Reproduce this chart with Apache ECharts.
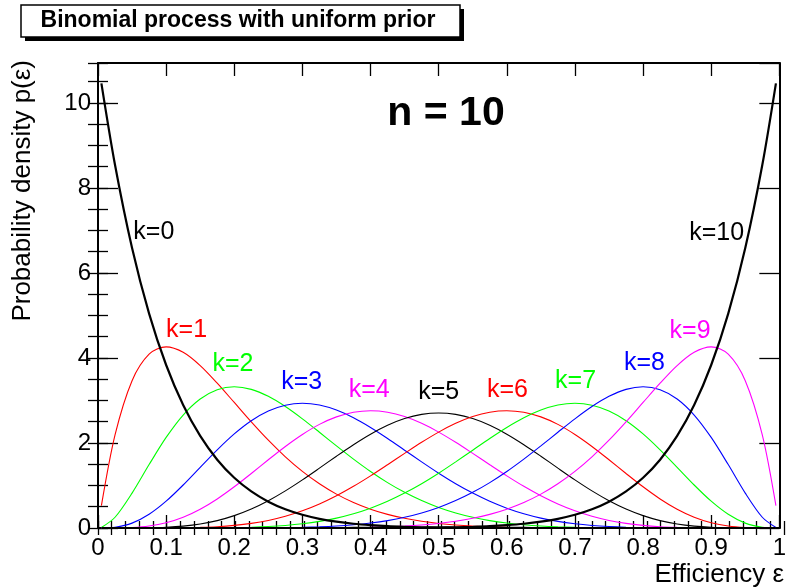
<!DOCTYPE html>
<html>
<head>
<meta charset="utf-8">
<script src="https://cdn.jsdelivr.net/npm/echarts@6/dist/echarts.min.js"></script>
<style>
  html, body { margin: 0; padding: 0; background: #ffffff; }
  #chart { width: 789px; height: 588px; }
</style>
</head>
<body>
<div id="chart"></div>
<script>
// Efficiency values at which each posterior density is sampled
const eps = [0.005,0.025,0.05,0.075,0.1,0.125,0.15,0.175,0.2,0.225,0.25,0.275,0.3,0.325,0.35,0.375,0.4,0.425,0.45,0.475,0.5,
             0.525,0.55,0.575,0.6,0.625,0.65,0.675,0.7,0.725,0.75,0.775,0.8,0.825,0.85,0.875,0.9,0.925,0.95,0.975,0.995];

// Posterior density p(eps) for k successes out of n = 10 trials
const p0 = [10.462,8.540,6.586,5.044,3.835,2.894,2.166,1.607,1.181,0.860,0.619,0.441,0.311,0.216,0.148,0.100,0.067,0.043,0.028,0.017,0.011,
            0.006,0.004,0.002,0.001,0.001,0,0,0,0,0,0,0,0,0,0,0,0,0,0,0];
const p1 = [0.526,2.190,3.466,4.090,4.262,4.134,3.822,3.408,2.953,2.496,2.065,1.674,1.332,1.040,0.797,0.600,0.443,0.321,0.228,0.158,0.107,
            0.071,0.046,0.029,0.017,0.010,0.006,0.003,0.002,0.001,0,0,0,0,0,0,0,0,0,0,0];
const p2 = [0.012,0.253,0.821,1.492,2.131,2.658,3.035,3.253,3.322,3.261,3.097,2.857,2.568,2.253,1.932,1.621,1.330,1.068,0.839,0.645,0.483,
            0.354,0.252,0.174,0.117,0.076,0.047,0.028,0.016,0.009,0.004,0.002,0.001,0,0,0,0,0,0,0,0];
const p3 = [0,0.017,0.115,0.323,0.631,1.012,1.428,1.840,2.215,2.525,2.753,2.890,2.935,2.893,2.774,2.593,2.365,2.106,1.831,1.555,1.289,
            1.042,0.821,0.629,0.467,0.336,0.233,0.155,0.099,0.060,0.034,0.018,0.009,0.004,0.001,0,0,0,0,0,0];
const p4 = [0,0.001,0.011,0.046,0.123,0.253,0.441,0.683,0.969,1.283,1.606,1.919,2.201,2.438,2.614,2.723,2.759,2.724,2.622,2.462,2.256,
            2.016,1.755,1.488,1.226,0.980,0.758,0.565,0.404,0.276,0.178,0.108,0.061,0.031,0.014,0.005,0.002,0,0,0,0];
const p5 = [0,0,0.001,0.004,0.016,0.043,0.093,0.174,0.291,0.447,0.642,0.873,1.132,1.408,1.689,1.960,2.207,2.416,2.574,2.673,2.707,
            2.673,2.574,2.416,2.207,1.960,1.689,1.408,1.132,0.873,0.642,0.447,0.291,0.174,0.093,0.043,0.016,0.004,0.001,0,0];
const p6 = [0,0,0,0,0.002,0.005,0.014,0.031,0.061,0.108,0.178,0.276,0.404,0.565,0.758,0.980,1.226,1.488,1.755,2.016,2.256,
            2.462,2.622,2.724,2.759,2.723,2.614,2.438,2.201,1.919,1.606,1.283,0.969,0.683,0.441,0.253,0.123,0.046,0.011,0.001,0];
const p7 = [0,0,0,0,0,0,0.001,0.004,0.009,0.018,0.034,0.060,0.099,0.155,0.233,0.336,0.467,0.629,0.821,1.042,1.289,
            1.555,1.831,2.106,2.365,2.593,2.774,2.893,2.935,2.890,2.753,2.525,2.215,1.840,1.428,1.012,0.631,0.323,0.115,0.017,0];
const p8 = [0,0,0,0,0,0,0,0,0.001,0.002,0.004,0.009,0.016,0.028,0.047,0.076,0.117,0.174,0.252,0.354,0.483,
            0.645,0.839,1.068,1.330,1.621,1.932,2.253,2.568,2.857,3.097,3.261,3.322,3.253,3.035,2.658,2.131,1.492,0.821,0.253,0.012];
const p9 = [0,0,0,0,0,0,0,0,0,0,0,0.001,0.002,0.003,0.006,0.010,0.017,0.029,0.046,0.071,0.107,
            0.158,0.228,0.321,0.443,0.600,0.797,1.040,1.332,1.674,2.065,2.496,2.953,3.408,3.822,4.134,4.262,4.090,3.466,2.190,0.526];
const p10 = [0,0,0,0,0,0,0,0,0,0,0,0,0,0,0,0.001,0.001,0.002,0.004,0.006,0.011,
             0.017,0.028,0.043,0.067,0.100,0.148,0.216,0.311,0.441,0.619,0.860,1.181,1.607,2.166,2.894,3.835,5.044,6.586,8.540,10.462];

const curveNames = ['k=0','k=1','k=2','k=3','k=4','k=5','k=6','k=7','k=8','k=9','k=10'];
const nTrials = 10;

// ---- styling ----
const densities = [p0, p1, p2, p3, p4, p5, p6, p7, p8, p9, p10];
const curveColors = ['#000000','#ff0000','#00ff00','#0000ff','#ff00ff','#000000',
                     '#ff0000','#00ff00','#0000ff','#ff00ff','#000000'];
// curve-label anchors in data coordinates (efficiency, density)
const labelAnchors = [[0.082,6.96],[0.130,4.66],[0.198,3.86],[0.299,3.44],[0.398,3.25],[0.500,3.20],
                      [0.601,3.25],[0.701,3.46],[0.802,3.88],[0.869,4.64],[0.908,6.94]];

const FONT = '"Liberation Sans", Arial, Helvetica, sans-serif';
const Y_MAX = 10.94;
const G = { left: 98, right: 5, top: 63, bottom: 60 };

const series = densities.map((d, k) => ({
  type: 'line',
  name: curveNames[k],
  xAxisIndex: 0,
  yAxisIndex: 0,
  data: eps.map((e, i) => [e, d[i]]),
  symbol: 'none',
  smooth: 0.3,
  silent: true,
  z: (k === 0 || k === nTrials) ? 4 : 3,
  lineStyle: { color: curveColors[k], width: (k === 0 || k === nTrials) ? 2.2 : 1.1 }
}));

const frameLine = { show: true, onZero: false, lineStyle: { color: '#000', width: 2 } };
const noLabel = { show: false };
const noSplit = { show: false };

function xAxisDef(grid, pos, interval, tickLen, withLabels) {
  return {
    gridIndex: grid, type: 'value', position: pos, min: 0, max: 1, interval,
    axisLine: grid === 0 ? frameLine : { show: false },
    axisTick: { show: true, inside: true, length: tickLen, lineStyle: { color: '#000', width: 1.3 } },
    axisLabel: withLabels ? {
      show: true, margin: 8, fontFamily: FONT, fontSize: 24, color: '#000',
      formatter: v => (v === 0 ? '0' : v === 1 ? '1' : v.toFixed(1))
    } : noLabel,
    splitLine: noSplit
  };
}
function yAxisDef(grid, pos, interval, tickLen, withLabels) {
  return {
    gridIndex: grid, type: 'value', position: pos, min: 0, max: Y_MAX, interval,
    axisLine: grid === 0 ? frameLine : { show: false },
    axisTick: { show: true, inside: true, length: tickLen, lineStyle: { color: '#000', width: 1.3 } },
    axisLabel: withLabels ? {
      show: true, margin: 7, fontFamily: FONT, fontSize: 24, color: '#000',
      showMaxLabel: false, formatter: v => String(Math.round(v))
    } : noLabel,
    splitLine: noSplit
  };
}

function textEl(x, y, text, font, color, align, extra) {
  return Object.assign({
    type: 'text', x, y, z: 12,
    style: { text, font, fill: color, align, verticalAlign: 'middle', textAlign: align, textVerticalAlign: 'middle' }
  }, extra || {});
}

const baseGraphics = [
  // title box with drop shadow
  { type: 'rect', shape: { x: 25, y: 9, width: 439, height: 32 }, style: { fill: '#000' }, z: 10 },
  { type: 'rect', shape: { x: 21, y: 5, width: 439, height: 32 }, style: { fill: '#fff', stroke: '#000', lineWidth: 1.5 }, z: 11 },
  textEl(238, 21, 'Binomial process with uniform prior', 'bold 23px ' + FONT, '#000', 'center'),
  // sample size
  textEl(446, 114, 'n = ' + nTrials, 'bold 41px ' + FONT, '#000', 'center'),
  // axis titles
  textEl(784, 575, 'Efficiency \u03b5', '26px ' + FONT, '#000', 'right'),
  textEl(23, 60, 'Probability density p(\u03b5)', '26px ' + FONT, '#000', 'right', { rotation: Math.PI / 2 })
];

const option = {
  animation: false,
  backgroundColor: '#ffffff',
  grid: [Object.assign({}, G), Object.assign({}, G)],
  xAxis: [
    xAxisDef(0, 'bottom', 0.1, 13, true),
    xAxisDef(0, 'top', 0.1, 13, false),
    xAxisDef(1, 'bottom', 0.02, 7, false),
    xAxisDef(1, 'top', 0.02, 7, false)
  ],
  yAxis: [
    yAxisDef(0, 'left', 2, 20, true),
    yAxisDef(0, 'right', 2, 20, false),
    yAxisDef(1, 'left', 0.5, 10, false),
    yAxisDef(1, 'right', 0.5, 10, false)
  ],
  series,
  graphic: baseGraphics
};

const chart = echarts.init(document.getElementById('chart'), null, { renderer: 'canvas' });
chart.setOption(option);

// curve labels placed through the grid's coordinate system
const curveLabels = curveNames.map((name, k) => {
  const pt = chart.convertToPixel({ gridIndex: 0 }, labelAnchors[k]);
  return textEl(pt[0], pt[1], name, '25px ' + FONT, curveColors[k], 'center');
});
chart.setOption({ graphic: baseGraphics.concat(curveLabels) });
</script>
</body>
</html>
